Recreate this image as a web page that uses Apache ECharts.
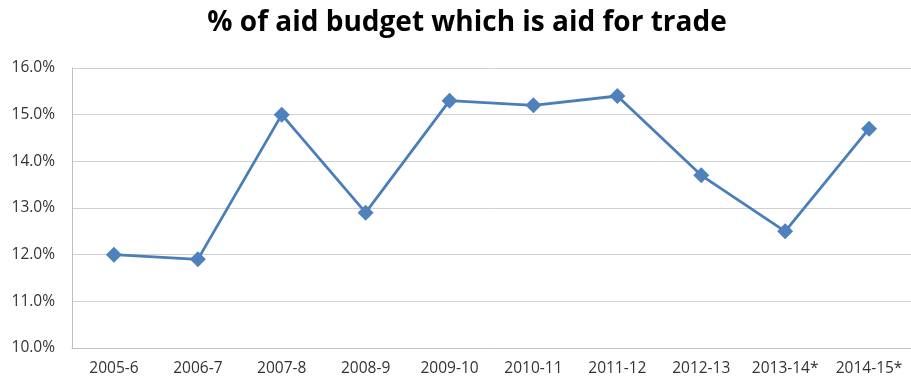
<!DOCTYPE html>
<html><head><meta charset="utf-8">
<script src="https://cdn.jsdelivr.net/npm/echarts@6/dist/echarts.min.js"></script>
<style>html,body{margin:0;padding:0;background:#fff}#c{width:911px;height:382px}</style>
</head><body><div id="c"></div>
<script>
const categories = ["2005-6","2006-7","2007-8","2008-9","2009-10","2010-11","2011-12","2012-13","2013-14*","2014-15*"];
const values = [12.0, 11.9, 15.0, 12.9, 15.3, 15.2, 15.4, 13.7, 12.5, 14.7];
const titleText = "% of aid budget which is aid for trade";
const chart = echarts.init(document.getElementById('c'));
chart.setOption({
  animation: false,
  backgroundColor: '#fff',
  title: { text: titleText, left: 462, textAlign: 'center', top: 4,
    textStyle: { fontFamily: 'Open Sans', fontWeight: 'bold', fontSize: 28, color: '#000' } },
  grid: { left: 72, top: 68, width: 844, height: 280 },
  xAxis: { type: 'category', data: categories, boundaryGap: true,
    axisLine: { lineStyle: { color: '#bfbfbf', width: 1 } },
    axisTick: { show: false },
    axisLabel: { color: '#333', fontFamily: 'Open Sans', fontSize: 15.5, margin: 13, interval: 0 } },
  yAxis: { type: 'value', min: 10, max: 16, interval: 1,
    axisLine: { show: true, lineStyle: { color: '#bfbfbf' } },
    axisTick: { show: false },
    splitLine: { lineStyle: { color: '#d0d0d0', width: 1 } },
    axisLabel: { color: '#333', fontFamily: 'Open Sans', fontSize: 15.5, margin: 17,
      formatter: v => v.toFixed(1) + '%' } },
  series: [{ type: 'line', data: values, symbol: 'diamond', symbolSize: 16,
    lineStyle: { color: '#4a7ebb', width: 2.8 },
    itemStyle: { color: '#4f81bd' } }]
});
</script></body></html>
